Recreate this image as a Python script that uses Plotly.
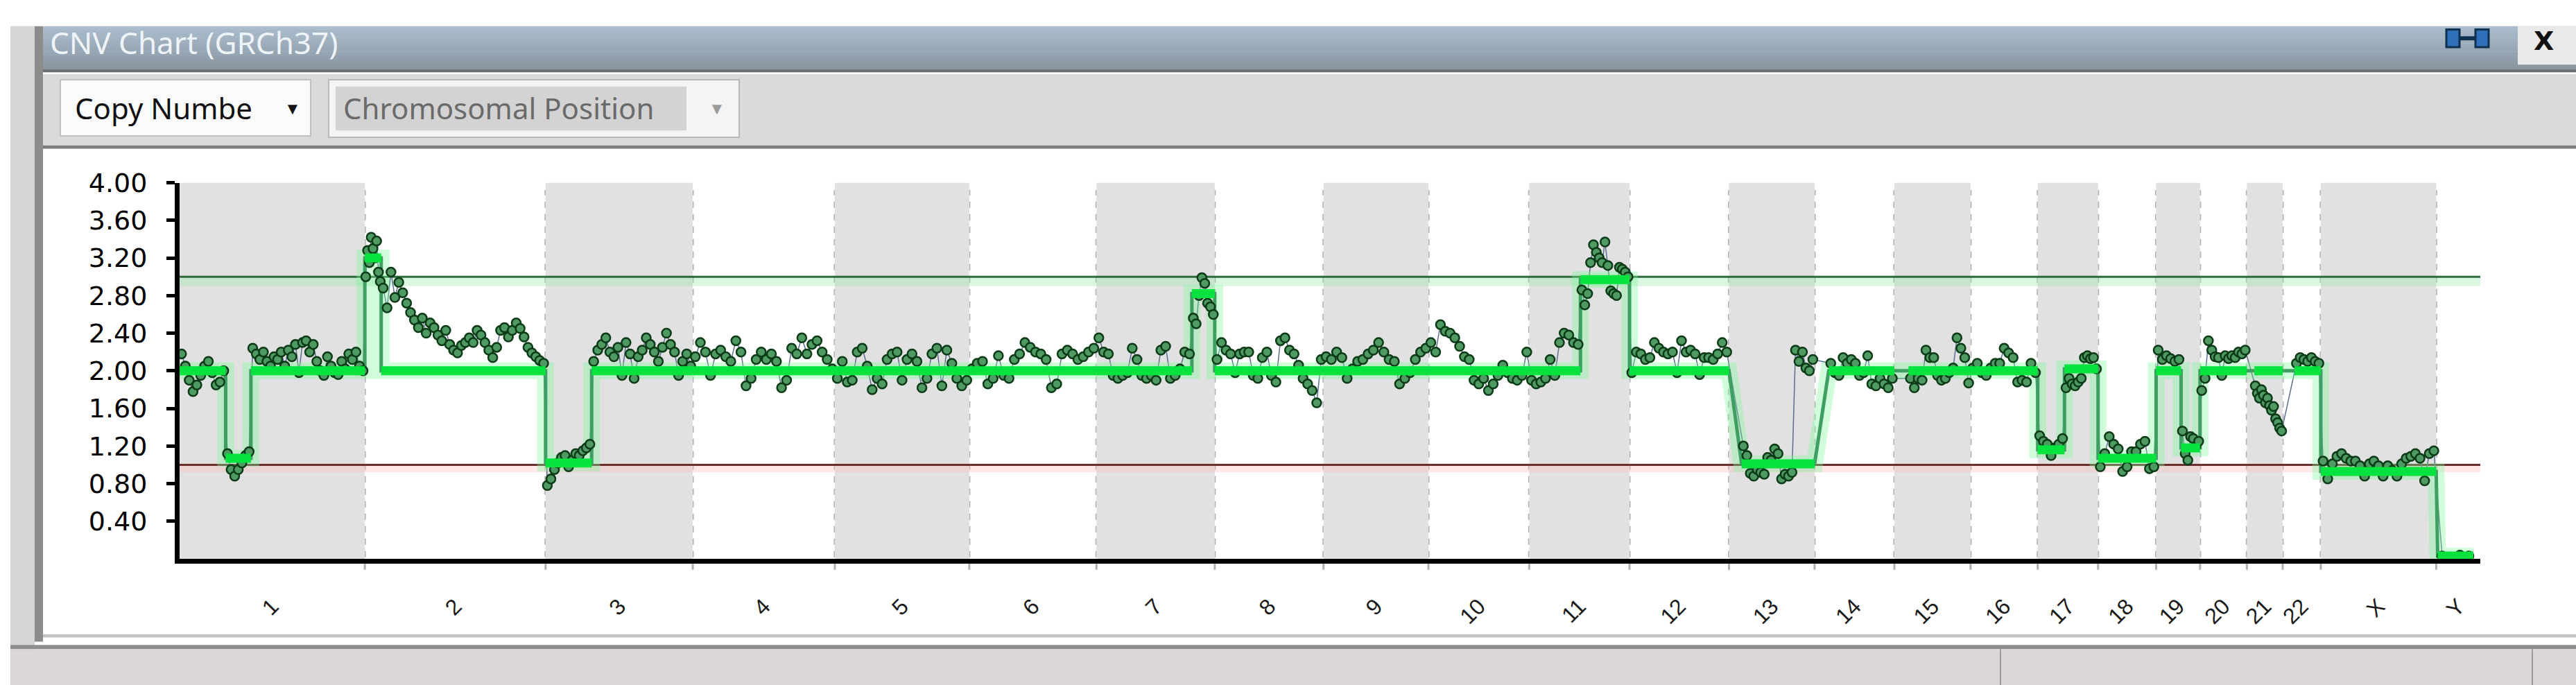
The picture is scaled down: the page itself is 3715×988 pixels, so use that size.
import numpy as np
import plotly.graph_objects as go

W, H = 3715, 988

# ---- genome layout (GRCh37, Mb) ----
CHROMS = ["1", "2", "3", "4", "5", "6", "7", "8", "9", "10", "11", "12",
          "13", "14", "15", "16", "17", "18", "19", "20", "21", "22", "X", "Y"]
CHROM_LEN_MB = [249.25, 243.20, 198.02, 191.15, 180.92, 171.12, 159.14, 146.36,
                141.21, 135.53, 135.01, 133.85, 115.17, 107.35, 102.53, 90.35,
                81.20, 78.08, 59.13, 63.03, 48.13, 51.30, 155.27, 59.37]

# ---- copy-number segments (chromosome, start/end in Mb, copy number) ----
SEG_CHROM = ["1", "1", "1", "2", "2", "3", "3", "4", "5", "6", "7", "7", "8", "9",
             "10", "11", "11", "12", "13", "14", "15", "16", "17", "17", "18",
             "19", "19", "20", "21", "22", "X", "Y"]
SEG_START = [0, 62, 96, 0, 22, 0, 62, 0, 0, 0, 0, 128.4, 0, 0,
             0, 0, 69, 0, 17, 19, 19, 0, 0, 36, 0,
             0, 33.6, 0, 10, 16, 0, 2]
SEG_END = [62, 96, 249.25, 22, 243.2, 62, 198.02, 191.15, 180.92, 171.12, 128.4, 159.14, 146.36, 141.21,
           135.53, 69, 135.01, 133.85, 115.17, 107.35, 102.53, 90.35, 36, 81.2, 78.08,
           33.6, 59.13, 63.03, 48.13, 51.3, 155.27, 50]
SEG_CN = [2.0, 1.07, 2.0, 3.2, 2.0, 1.02, 2.0, 2.0, 2.0, 2.0, 2.0, 2.82, 2.0, 2.0,
          2.0, 2.0, 2.97, 2.0, 1.01, 2.0, 2.0, 2.0, 1.16, 2.02, 1.07,
          2.0, 1.18, 2.0, 2.0, 2.0, 0.93, 0.03]

# ---- probe copy-number estimates inside each segment (read in order) ----
SEG_PROBES = [
    [2.18, 2.05, 1.9, 1.78, 1.85, 1.95, 2.05, 2.1, 1.98, 1.85, 1.88, 2.0],
    [1.12, 0.95, 0.88, 0.95, 1.02, 1.1, 1.14],
    [2.24, 2.18, 2.12, 2.2, 2.1, 2.05, 2.15, 2.12, 2.2, 2.05, 2.22, 2.15, 2.28, 1.98, 2.3, 2.32,
     2.2, 2.28, 2.1, 2.0, 1.95, 2.15, 2.05, 1.98, 1.96, 2.1, 2.02, 2.18, 2.12, 2.2, 2.05, 2.0],
    [3.0, 3.28, 3.15, 3.42, 3.3, 3.2, 3.38, 3.05, 2.95],
    [2.88, 2.67, 3.05, 2.78, 2.94, 2.83, 2.72, 2.62, 2.54, 2.46, 2.56, 2.4, 2.51, 2.46, 2.38, 2.32,
     2.43, 2.28, 2.22, 2.19, 2.27, 2.3, 2.35, 2.3, 2.43, 2.38, 2.3, 2.22, 2.14, 2.25, 2.43, 2.46,
     2.36, 2.43, 2.51, 2.45, 2.36, 2.25, 2.19, 2.15, 2.11, 2.08],
    [0.78, 0.85, 0.95, 1.02, 1.08, 1.1, 0.98, 1.05, 1.12, 1.1, 1.15, 1.18, 1.22],
    [2.1, 2.22, 2.28, 2.35, 2.2, 2.15, 2.25, 1.95, 2.3, 2.18, 1.92, 2.15, 2.22, 2.35, 2.28, 2.2,
     2.1, 2.25, 2.4, 2.28, 2.2, 1.95, 2.1, 2.18, 2.05],
    [2.15, 2.3, 2.2, 1.95, 2.18, 2.22, 2.15, 2.1, 2.32, 2.2, 1.84, 1.92, 2.12, 2.2, 2.12, 2.18,
     2.1, 1.82, 1.9, 2.24, 2.18, 2.35, 2.18, 2.28, 2.32, 2.2, 2.12, 2.02],
    [1.92, 2.1, 1.88, 1.9, 2.2, 2.24, 2.05, 1.8, 1.92, 1.86, 2.12, 2.18, 2.2, 1.9, 2.12, 2.18,
     2.1, 1.82, 1.92, 2.18, 2.24, 1.84, 2.22, 2.08, 1.92, 1.84, 1.9],
    [2.02, 2.08, 2.1, 1.86, 1.92, 2.16, 1.95, 1.92, 2.12, 2.18, 2.3, 2.25, 2.2, 2.18, 2.12, 1.82,
     1.86, 2.18, 2.22, 2.18, 2.12, 2.15, 2.2, 2.24],
    [2.35, 2.2, 2.18, 1.95, 1.92, 1.95, 1.98, 2.24, 2.12, 1.95, 1.92, 1.95, 1.9, 2.22, 2.26, 1.92,
     1.95, 2.02, 2.2, 2.18],
    [2.56, 2.5, 2.8, 2.99, 2.93, 2.72, 2.68, 2.6],
    [2.12, 2.3, 2.22, 2.18, 1.98, 2.18, 2.2, 2.2, 1.95, 1.92, 2.14, 2.2, 1.95, 1.88, 2.32, 2.35,
     2.22, 2.18, 2.06, 1.92, 1.86, 1.79, 1.66, 2.12],
    [2.15, 2.12, 2.2, 2.14, 1.92, 2.02, 2.1, 2.12, 2.18, 2.22, 2.3, 2.2, 2.12, 2.1, 1.86, 1.92,
     1.98, 2.12, 2.2, 2.24],
    [2.3, 2.2, 2.49, 2.42, 2.4, 2.35, 2.26, 2.15, 2.12, 1.9, 1.86, 1.92, 1.79, 1.86, 1.95, 2.06,
     1.98, 1.92, 1.9, 1.95, 2.2],
    [1.9, 1.86, 1.88, 1.92, 2.12, 1.95, 2.3, 2.4, 2.38, 2.3, 2.28],
    [2.86, 2.7, 2.82, 3.15, 3.34, 3.26, 3.2, 3.15, 3.37, 3.12, 2.85, 2.82, 2.8, 3.1, 3.08, 3.05, 3.0],
    [1.98, 2.2, 2.18, 2.12, 2.14, 2.3, 2.24, 2.2, 2.18, 2.2, 1.98, 2.32, 2.2, 2.22, 2.18, 1.96,
     2.14, 2.14, 2.12, 2.18, 2.3, 2.2],
    [1.2, 1.1, 0.91, 0.88, 0.95, 0.92, 0.9, 1.08, 1.05, 1.17, 1.12, 0.85, 0.9, 0.88, 0.92,
     2.22, 2.1, 2.2, 2.03, 2.0, 2.12],
    [2.08, 1.98, 1.95, 2.14, 2.08, 2.12, 2.08, 1.95, 1.98, 2.16, 1.86, 1.84, 1.92, 1.86, 1.82, 1.92],
    [1.92, 1.82, 1.92, 1.9, 2.22, 2.14, 2.14, 1.95, 1.9, 1.92, 1.98, 2.03, 2.35, 2.24, 2.14, 1.87],
    [2.03, 2.08, 1.98, 1.95, 2.03, 2.08, 2.08, 2.24, 2.19, 2.14, 1.88, 1.9, 1.88, 2.08, 1.98],
    [1.31, 1.25, 1.22, 1.1, 1.18, 1.22, 1.28],
    [1.82, 1.92, 1.86, 1.84, 1.88, 1.92, 2.14, 2.16, 2.13, 2.14, 2.02],
    [0.98, 1.12, 1.3, 1.22, 1.17, 0.93, 0.98, 1.14, 1.14, 1.22, 1.25, 0.96, 0.98],
    [2.22, 2.12, 2.16, 2.13, 2.1, 2.12],
    [1.36, 1.12, 1.05, 1.3, 1.28, 1.2, 1.25],
    [1.79, 1.92, 2.32, 2.22, 2.15, 2.14, 1.95, 2.16, 2.13, 2.16, 2.14, 2.2, 2.18, 2.22],
    [1.84, 1.76, 1.71, 1.8, 1.74, 1.66, 1.71, 1.63, 1.58, 1.62, 1.49, 1.45, 1.39, 1.36],
    [2.08, 2.14, 2.12, 2.1, 2.14, 2.1, 2.08],
    [1.04, 0.85, 1.01, 1.09, 1.12, 1.07, 1.04, 1.04, 0.99, 0.88, 1.01, 1.04, 0.99, 0.88, 0.99,
     0.94, 0.88, 1.01, 1.07, 1.09, 1.12, 1.07, 0.83, 1.12, 1.15],
    [0.03, 0.02, 0.04, 0.03],
]

GAIN_LEVEL = 3.0
LOSS_LEVEL = 1.0
Y_TICKS = [0.4, 0.8, 1.2, 1.6, 2.0, 2.4, 2.8, 3.2, 3.6, 4.0]
Y_MAX = 4.0

# ---- derived genome coordinates ----
offsets = dict(zip(CHROMS, np.concatenate([[0], np.cumsum(CHROM_LEN_MB)[:-1]])))
genome_len = float(np.sum(CHROM_LEN_MB))
mids = [offsets[c] + l / 2 for c, l in zip(CHROMS, CHROM_LEN_MB)]

seg_x, seg_y = [], []        # step line through all segments
bar_x, bar_y = [], []        # thick horizontal pieces
probe_x, probe_y = [], []
for c, s, e, cn, probes in zip(SEG_CHROM, SEG_START, SEG_END, SEG_CN, SEG_PROBES):
    gs, ge = offsets[c] + s, offsets[c] + e
    seg_x += [gs, ge]
    seg_y += [cn, cn]
    bar_x += [gs, ge, None]
    bar_y += [cn, cn, None]
    n = len(probes)
    step = (ge - gs) / n
    probe_x += [gs + (i + 0.5) * step for i in range(n)]
    probe_y += probes


def px(x):
    return x / W


def py(y):
    return 1 - y / H


shapes = []


def rect(x0, y0, x1, y1, color, line=None, lw=0):
    shapes.append(dict(type="rect", xref="paper", yref="paper",
                       x0=px(x0), x1=px(x1), y0=py(y1), y1=py(y0),
                       fillcolor=color, line=dict(color=line or color, width=lw),
                       layer="below"))


# ---- window chrome ----
rect(15, 16, 50, 988, "#d5d5d5")
rect(50, 16, 62, 924, "#8c8c8c")
top, bot = (170, 189, 205), (138, 150, 161)
nb = 12
for i in range(nb):
    t = i / (nb - 1)
    col = "rgb(%d,%d,%d)" % tuple(int(a + (b - a) * t) for a, b in zip(top, bot))
    rect(62, 16 + i * 64 / nb, W, 16 + (i + 1) * 64 / nb + 0.5, col)
rect(62, 80, W, 84, "#6e6e6e")
rect(62, 87, W, 192, "#dadada")
rect(62, 192, W, 197, "#7c7c7c")
rect(62, 913, W, 918, "#c4c4c4")
rect(15, 929, W, 935, "#8e8e8e")
rect(15, 935, W, 988, "#ddd6d6")
rect(2884, 935, 2886, 988, "#9a9a9a")
rect(3651, 935, 3653, 988, "#9a9a9a")
# dropdowns
rect(87, 95, 448, 178, "#fbfbfb", "#c0c0c0", 2)
rect(474, 95, 1066, 180, "#f4f4f4", "#b8b8b8", 2)
rect(484, 105, 990, 170, "#d3d3d3")
# title-bar buttons
rect(3631, 16, W, 73, "#e9e9e9")
rect(3528, 21, 3547, 47, "#2f70b8", "#10304f", 3)
rect(3570, 21, 3589, 47, "#2f70b8", "#10304f", 3)
rect(3547, 31, 3570, 37, "#10304f")

# ---- chart decorations in data space ----
for i, (c, l) in enumerate(zip(CHROMS, CHROM_LEN_MB)):
    if i % 2 == 0:
        shapes.append(dict(type="rect", xref="x", yref="y", x0=offsets[c], x1=offsets[c] + l,
                           y0=0, y1=Y_MAX, fillcolor="#e1e1e1", line=dict(width=0), layer="below"))
for c in CHROMS[1:]:
    shapes.append(dict(type="line", xref="x", yref="paper", x0=offsets[c], x1=offsets[c],
                       y0=py(818), y1=py(258), line=dict(color="#b0b0b0", width=3, dash="dash"),
                       layer="below"))
# threshold lines with soft glow
shapes.append(dict(type="rect", xref="x", yref="y", x0=0, x1=genome_len, y0=GAIN_LEVEL - 0.1,
                   y1=GAIN_LEVEL, fillcolor="rgba(150,235,170,0.35)", line=dict(width=0), layer="below"))
shapes.append(dict(type="rect", xref="x", yref="y", x0=0, x1=genome_len, y0=LOSS_LEVEL - 0.08,
                   y1=LOSS_LEVEL, fillcolor="rgba(255,190,190,0.35)", line=dict(width=0), layer="below"))
shapes.append(dict(type="line", xref="x", yref="y", x0=0, x1=genome_len, y0=GAIN_LEVEL,
                   y1=GAIN_LEVEL, line=dict(color="#2d6a3c", width=3), layer="below"))
shapes.append(dict(type="line", xref="x", yref="y", x0=0, x1=genome_len, y0=LOSS_LEVEL,
                   y1=LOSS_LEVEL, line=dict(color="#6b2f2f", width=3), layer="below"))

fig = go.Figure()
fig.add_trace(go.Scatter(x=probe_x, y=probe_y, mode="lines",
                         line=dict(color="#5a6f8e", width=1.5), hoverinfo="skip"))
fig.add_trace(go.Scatter(x=seg_x, y=seg_y, mode="lines",
                         line=dict(color="rgba(120,250,150,0.35)", width=24), hoverinfo="skip"))
fig.add_trace(go.Scatter(x=seg_x, y=seg_y, mode="lines",
                         line=dict(color="#3f9e62", width=5), hoverinfo="skip"))
fig.add_trace(go.Scatter(x=probe_x, y=probe_y, mode="markers",
                         marker=dict(size=13, color="#4e9a62", line=dict(color="#0b3a16", width=2.5)),
                         name="Copy Number"))
fig.add_trace(go.Scatter(x=bar_x, y=bar_y, mode="lines",
                         line=dict(color="#06e23e", width=13), hoverinfo="skip"))

annotations = [
    dict(text="CNV Chart (GRCh37)", x=px(70), y=py(40), font=dict(size=44, color="#eef3f8",
         family="Noto Sans")),
    dict(text="Copy Numbe", x=px(106), y=py(137), font=dict(size=42, color="#111111",
         family="Noto Sans")),
    dict(text="▼", x=px(408), y=py(137), font=dict(size=24, color="#111111")),
    dict(text="Chromosomal Position", x=px(493), y=py(137), font=dict(size=42, color="#6a6a6a",
         family="Noto Sans")),
    dict(text="▼", x=px(1020), y=py(137), font=dict(size=24, color="#9a9a9a")),
    dict(text="<b>X</b>", x=px(3652), y=py(38), font=dict(size=38, color="#111111",
         family="DejaVu Sans")),
]
for a in annotations:
    a.update(xref="paper", yref="paper", xanchor="left", yanchor="middle", showarrow=False)

fig.update_layout(
    width=W, height=H,
    margin=dict(l=0, r=0, t=0, b=0),
    paper_bgcolor="white",
    plot_bgcolor="rgba(0,0,0,0)",
    showlegend=False,
    shapes=shapes,
    annotations=annotations,
    xaxis=dict(domain=[px(259), px(3577)], range=[0, genome_len], showgrid=False, zeroline=False,
               showline=True, linecolor="black", linewidth=7, ticks="",
               tickvals=mids, ticktext=CHROMS, tickangle=-45, ticklabelstandoff=30,
               tickfont=dict(size=32, color="#1a1a1a", family="Liberation Sans")),
    yaxis=dict(domain=[py(802), py(247)], range=[0, Y_MAX], showgrid=False, zeroline=False,
               showline=True, linecolor="black", linewidth=7, ticks="outside", ticklen=12,
               tickwidth=5, tickcolor="black", tickvals=Y_TICKS, tickformat=".2f",
               ticklabelstandoff=20,
               tickfont=dict(size=38, color="black", family="DejaVu Sans")),
)

fig.write_html("out.html", config={"displayModeBar": False},
               post_script="document.body.style.margin='0px';")
